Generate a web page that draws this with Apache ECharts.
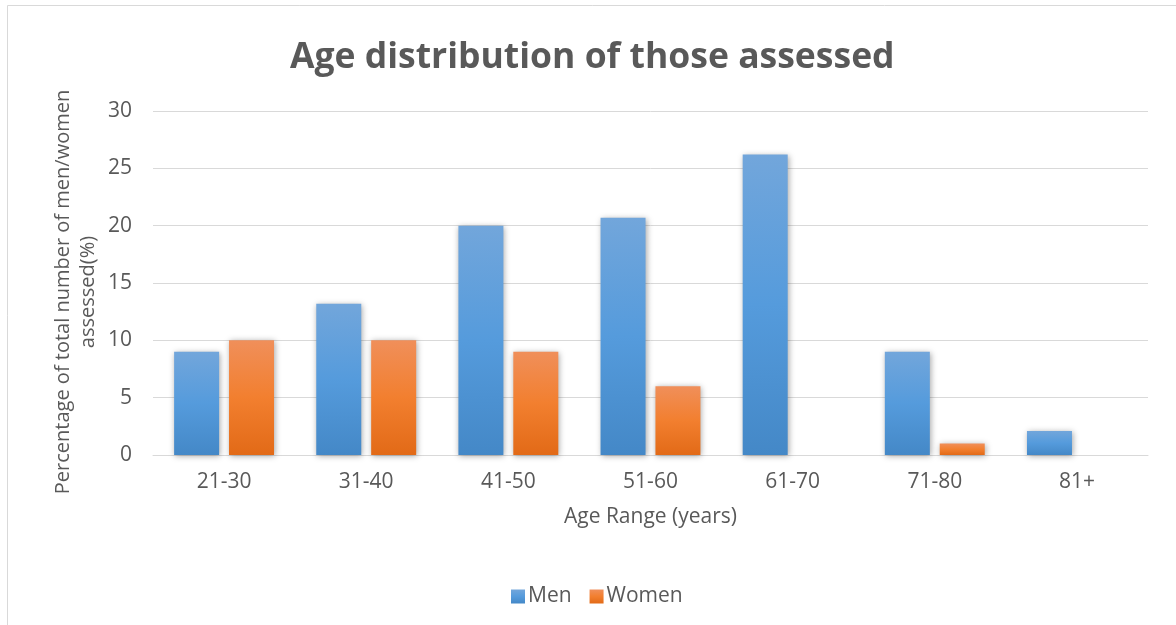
<!DOCTYPE html>
<html>
<head>
<meta charset="utf-8">
<style>
  html, body { margin: 0; padding: 0; background: #ffffff; }
  #chart { width: 1176px; height: 625px; }
</style>
<script src="https://cdn.jsdelivr.net/npm/echarts@6/dist/echarts.min.js"></script>
</head>
<body>
<div id="chart"></div>
<script>
// Age bands and the share (%) of men / women assessed in each band
const ageRanges = ['21-30', '31-40', '41-50', '51-60', '61-70', '71-80', '81+'];
const menPct = [9, 13.2, 20, 20.7, 26.2, 9, 2.1];
const womenPct = [10, 10, 9, 6, 0, 1, 0];
const yTicks = [0, 5, 10, 15, 20, 25, 30];

const FONT = '"Open Sans", "Noto Sans", sans-serif';
const TEXT = '#595959';

const blueFill = new echarts.graphic.LinearGradient(0, 0, 0, 1, [
  { offset: 0, color: '#72a6db' },
  { offset: 0.5, color: '#559bdc' },
  { offset: 1, color: '#4488c7' }
]);
const orangeFill = new echarts.graphic.LinearGradient(0, 0, 0, 1, [
  { offset: 0, color: '#f08f5a' },
  { offset: 0.5, color: '#f27f2f' },
  { offset: 1, color: '#e26a17' }
]);

const barShadow = {
  shadowBlur: 6,
  shadowColor: 'rgba(0,0,0,0.35)',
  shadowOffsetX: 1,
  shadowOffsetY: 1
};

const chart = echarts.init(document.getElementById('chart'), null, { renderer: 'canvas' });
chart.setOption({
  animation: false,
  backgroundColor: '#ffffff',
  textStyle: { fontFamily: FONT },
  graphic: [{
    type: 'rect',
    silent: true,
    shape: { x: 7.5, y: 5.5, width: 1300, height: 800 },
    style: { fill: 'none', stroke: '#d9d9d9', lineWidth: 1 }
  }],
  title: {
    text: 'Age distribution of those assessed',
    left: 285,
    top: 35,
    textStyle: { fontFamily: FONT, fontSize: 35.5, fontWeight: 'bold', color: TEXT }
  },
  legend: {
    data: ['Men', 'Women'],
    left: 506,
    top: 581,
    itemWidth: 14,
    itemHeight: 14,
    itemGap: 18,
    icon: 'rect',
    itemStyle: { shadowBlur: 0, shadowColor: 'transparent' },
    textStyle: { fontFamily: FONT, fontSize: 21, color: TEXT, padding: [0, 0, 0, -2] }
  },
  grid: { left: 153, right: 28, top: 111, bottom: 170, containLabel: false },
  xAxis: {
    type: 'category',
    data: ageRanges,
    name: 'Age Range (years)',
    nameLocation: 'middle',
    nameGap: 52,
    nameTextStyle: { fontFamily: FONT, fontSize: 21, color: TEXT },
    axisLine: { show: true, lineStyle: { color: '#d9d9d9', width: 1 } },
    axisTick: { show: false },
    axisLabel: { fontFamily: FONT, fontSize: 21, color: TEXT, margin: 17 }
  },
  yAxis: {
    type: 'value',
    min: yTicks[0],
    max: yTicks[yTicks.length - 1],
    interval: yTicks[1] - yTicks[0],
    name: 'Percentage of total number of men/women\nassessed(%)',
    nameLocation: 'middle',
    nameRotate: 90,
    nameGap: 52,
    nameMoveOverlap: false,
    nameTextStyle: {
      fontFamily: FONT, fontSize: 20, color: TEXT, lineHeight: 25, align: 'center',
      padding: [0, 18, 0, 0]
    },
    axisLine: { show: false },
    axisTick: { show: false },
    axisLabel: { fontFamily: FONT, fontSize: 21, color: TEXT, margin: 21 },
    splitLine: { lineStyle: { color: '#d9d9d9', width: 1 } }
  },
  series: [
    {
      name: 'Men',
      type: 'bar',
      data: menPct,
      barWidth: 45,
      barGap: '22%',
      itemStyle: Object.assign({ color: blueFill }, barShadow)
    },
    {
      name: 'Women',
      type: 'bar',
      data: womenPct,
      barWidth: 45,
      itemStyle: Object.assign({ color: orangeFill }, barShadow)
    }
  ]
});
</script>
</body>
</html>
